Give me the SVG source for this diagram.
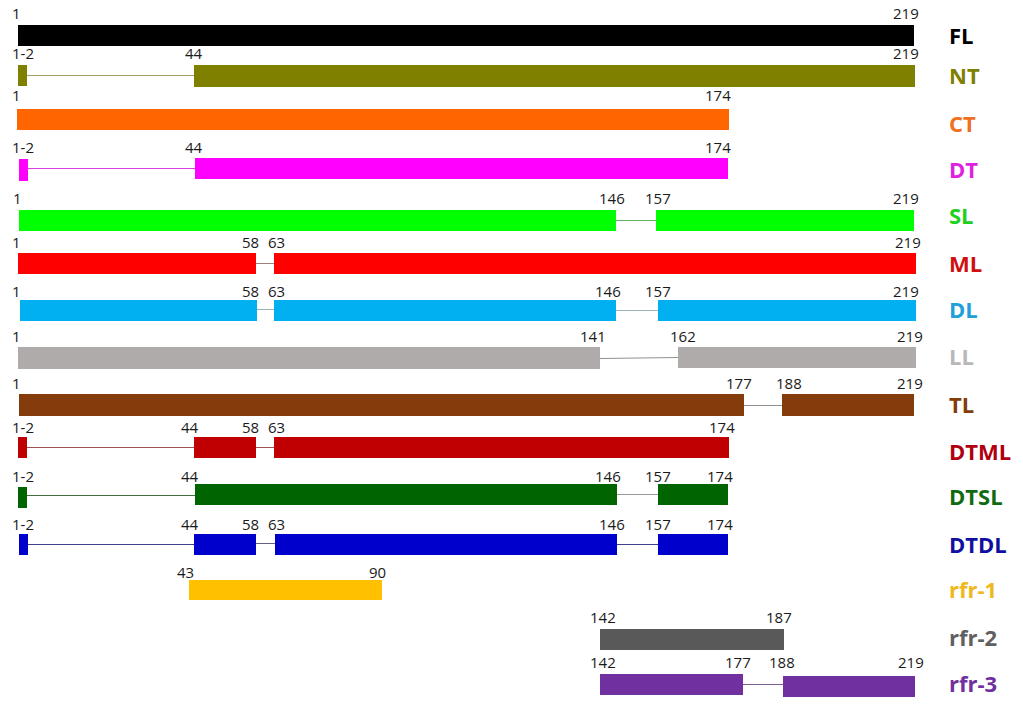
<svg xmlns="http://www.w3.org/2000/svg" width="1023" height="709" viewBox="0 0 1023 709">
<style>
.n{font-family:"Open Sans","Liberation Sans",sans-serif;font-size:15px;fill:#1a1a1a}
.l{font-family:"Open Sans","Liberation Sans",sans-serif;font-size:22px;font-weight:bold}
.c{stroke-width:1;fill:none}
</style>
<rect width="1023" height="709" fill="#ffffff"/>
<g id="connectors">
<line class="c" x1="27" y1="75.5" x2="194" y2="75.5" stroke="#a0a060"/>
<line class="c" x1="28" y1="168.5" x2="195" y2="168.5" stroke="#e040e0"/>
<line class="c" x1="616" y1="220.5" x2="656" y2="220.5" stroke="#60b060"/>
<line class="c" x1="256" y1="263.5" x2="274" y2="263.5" stroke="#a08080"/>
<line class="c" x1="257" y1="309.5" x2="274" y2="309.5" stroke="#9ab0bb"/>
<line class="c" x1="616" y1="310.5" x2="658" y2="310.5" stroke="#9ab0bb"/>
<line class="c" x1="600" y1="358.5" x2="678" y2="357.5" stroke="#909090"/>
<line class="c" x1="744" y1="405.5" x2="782" y2="405.5" stroke="#909090"/>
<line class="c" x1="27" y1="447.5" x2="194" y2="447.5" stroke="#a05050"/>
<line class="c" x1="256" y1="447.5" x2="274" y2="447.5" stroke="#a05050"/>
<line class="c" x1="27" y1="495.5" x2="195" y2="495.5" stroke="#407040"/>
<line class="c" x1="617" y1="494.5" x2="658" y2="494.5" stroke="#999999"/>
<line class="c" x1="28" y1="544.5" x2="194" y2="544.5" stroke="#404090"/>
<line class="c" x1="256" y1="543.5" x2="275" y2="543.5" stroke="#606080"/>
<line class="c" x1="617" y1="544.5" x2="658" y2="544.5" stroke="#404090"/>
<line class="c" x1="743" y1="684.5" x2="783" y2="684.5" stroke="#806090"/>
</g>
<g id="FL">
<rect x="18" y="25" width="896" height="21" fill="#000000"/>
<text class="n" x="12" y="19">1</text><text class="n" x="893" y="19">219</text>
<text class="l" x="949" y="44" fill="#000000">FL</text>
</g>
<g id="NT" fill="#7f7f00">
<rect x="18" y="65" width="9" height="21"/><rect x="194" y="65" width="721" height="22"/>
<text class="n" x="12" y="59">1-2</text><text class="n" x="185" y="59">44</text><text class="n" x="893" y="59">219</text>
<text class="l" x="949" y="84" fill="#7f7f00">NT</text>
</g>
<g id="CT" fill="#ff6600">
<rect x="17" y="109" width="712" height="21"/>
<text class="n" x="12" y="101">1</text><text class="n" x="705" y="101">174</text>
<text class="l" x="949" y="132" fill="#f07020">CT</text>
</g>
<g id="DT" fill="#ff00ff">
<rect x="19" y="159" width="9" height="22"/><rect x="195" y="158" width="533" height="21"/>
<text class="n" x="12" y="153">1-2</text><text class="n" x="185" y="153">44</text><text class="n" x="705" y="153">174</text>
<text class="l" x="949" y="178" fill="#e020e0">DT</text>
</g>
<g id="SL" fill="#00ff00">
<rect x="19" y="210" width="597" height="21"/><rect x="656" y="210" width="258" height="21"/>
<text class="n" x="13" y="204">1</text><text class="n" x="599" y="204">146</text><text class="n" x="645" y="204">157</text><text class="n" x="893" y="204">219</text>
<text class="l" x="949" y="224" fill="#20d020">SL</text>
</g>
<g id="ML" fill="#ff0000">
<rect x="18" y="253" width="238" height="21"/><rect x="274" y="253" width="642" height="21"/>
<text class="n" x="12" y="248">1</text><text class="n" x="242" y="248">58</text><text class="n" x="268" y="248">63</text><text class="n" x="895" y="248">219</text>
<text class="l" x="949" y="272" fill="#d01010">ML</text>
</g>
<g id="DL" fill="#00b0f0">
<rect x="20" y="300" width="237" height="21"/><rect x="274" y="300" width="342" height="21"/><rect x="658" y="300" width="258" height="21"/>
<text class="n" x="12" y="297">1</text><text class="n" x="242" y="297">58</text><text class="n" x="268" y="297">63</text><text class="n" x="595" y="297">146</text><text class="n" x="645" y="297">157</text><text class="n" x="893" y="297">219</text>
<text class="l" x="949" y="318" fill="#20a0d8">DL</text>
</g>
<g id="LL" fill="#afabab">
<rect x="18" y="347" width="582" height="22"/><rect x="678" y="347" width="238" height="21"/>
<text class="n" x="12" y="342">1</text><text class="n" x="580" y="342">141</text><text class="n" x="670" y="342">162</text><text class="n" x="897" y="342">219</text>
<text class="l" x="949" y="365" fill="#b8b8b8">LL</text>
</g>
<g id="TL" fill="#843c0c">
<rect x="19" y="394" width="725" height="22"/><rect x="782" y="394" width="132" height="22"/>
<text class="n" x="12" y="389">1</text><text class="n" x="726" y="389">177</text><text class="n" x="776" y="389">188</text><text class="n" x="897" y="389">219</text>
<text class="l" x="949" y="413" fill="#843c0c">TL</text>
</g>
<g id="DTML" fill="#c00000">
<rect x="18" y="437" width="9" height="21"/><rect x="194" y="437" width="62" height="21"/><rect x="274" y="437" width="455" height="21"/>
<text class="n" x="12" y="433">1-2</text><text class="n" x="181" y="433">44</text><text class="n" x="242" y="433">58</text><text class="n" x="268" y="433">63</text><text class="n" x="709" y="433">174</text>
<text class="l" x="949" y="460" fill="#b00010">DTML</text>
</g>
<g id="DTSL" fill="#006400">
<rect x="18" y="487" width="9" height="21"/><rect x="195" y="484" width="422" height="21"/><rect x="658" y="484" width="70" height="21"/>
<text class="n" x="12" y="482">1-2</text><text class="n" x="181" y="482">44</text><text class="n" x="595" y="482">146</text><text class="n" x="645" y="482">157</text><text class="n" x="707" y="482">174</text>
<text class="l" x="949" y="505" fill="#106a10">DTSL</text>
</g>
<g id="DTDL" fill="#0000cc">
<rect x="19" y="534" width="9" height="21"/><rect x="194" y="534" width="62" height="21"/><rect x="275" y="534" width="342" height="21"/><rect x="658" y="534" width="70" height="21"/>
<text class="n" x="12" y="530">1-2</text><text class="n" x="181" y="530">44</text><text class="n" x="242" y="530">58</text><text class="n" x="268" y="530">63</text><text class="n" x="599" y="530">146</text><text class="n" x="645" y="530">157</text><text class="n" x="707" y="530">174</text>
<text class="l" x="949" y="553" fill="#1010a0">DTDL</text>
</g>
<g id="rfr-1" fill="#ffc000">
<rect x="189" y="580" width="193" height="20"/>
<text class="n" x="177" y="578">43</text><text class="n" x="369" y="578">90</text>
<text class="l" x="949" y="598" fill="#f0b820">rfr-1</text>
</g>
<g id="rfr-2" fill="#595959">
<rect x="600" y="629" width="184" height="21"/>
<text class="n" x="590" y="623">142</text><text class="n" x="766" y="623">187</text>
<text class="l" x="949" y="646" fill="#606060">rfr-2</text>
</g>
<g id="rfr-3" fill="#7030a0">
<rect x="600" y="674" width="143" height="21"/><rect x="783" y="676" width="132" height="21"/>
<text class="n" x="590" y="668">142</text><text class="n" x="725" y="668">177</text><text class="n" x="769" y="668">188</text><text class="n" x="898" y="668">219</text>
<text class="l" x="949" y="692" fill="#7030a0">rfr-3</text>
</g>
</svg>
